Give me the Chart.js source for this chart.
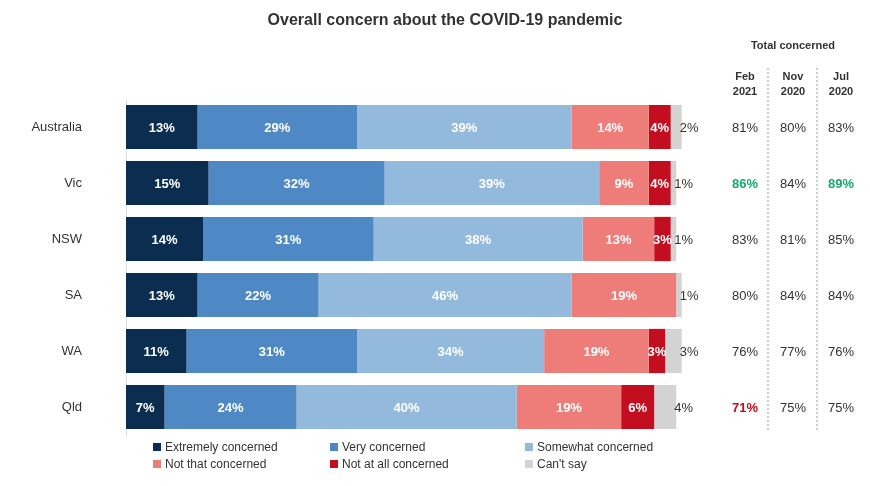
<!DOCTYPE html>
<html>
<head>
<meta charset="utf-8">
<script src="https://cdn.jsdelivr.net/npm/chart.js@4"></script>
<style>
  body { margin: 0; background: #fff; font-family: Arial, "Liberation Sans", sans-serif; }
  #wrap { position: relative; width: 870px; height: 486px; }
  .leg { position: absolute; font-size: 12px; color: #333; white-space: nowrap; }
  .leg span { display: inline-block; width: 8px; height: 8px; margin-right: 4px; }
</style>
</head>
<body>
<div id="wrap">
  <canvas id="chart" width="870" height="486"></canvas>
  <div id="legenda"></div>
</div>
<script>
// Dados
const regioes = ['Australia', 'Vic', 'NSW', 'SA', 'WA', 'Qld'];
const series = ['Extremely concerned', 'Very concerned', 'Somewhat concerned', 'Not that concerned', 'Not at all concerned', "Can't say"];
const extremamente = [13, 15, 14, 13, 11, 7];
const muito = [29, 32, 31, 22, 31, 24];
const algo = [39, 39, 38, 46, 34, 40];
const poucoPreoc = [14, 9, 13, 19, 19, 19];
const nada = [4, 4, 3, 0, 3, 6];
const naoSabe = [2, 1, 1, 1, 3, 4];
const periodos = [['Feb', '2021'], ['Nov', '2020'], ['Jul', '2020']];
const fev2021 = [81, 86, 83, 80, 76, 71];
const nov2020 = [80, 84, 81, 84, 77, 75];
const jul2020 = [83, 89, 85, 84, 76, 75];

const cores = ['#0b2d4f', '#4f89c5', '#93b9dd', '#ee7c78', '#c20e1e', '#d3d3d3'];
const valores = [extremamente, muito, algo, poucoPreoc, nada, naoSabe];

// cores de destaque na tabela
const corTabela = (col, i) => {
    if (col === 0 && i === 1) return '#1aa86a';
    if (col === 2 && i === 1) return '#1aa86a';
    if (col === 0 && i === 5) return '#c20e1e';
    return '#333';
};

const extras = {
    id: 'extras',
    afterDatasetsDraw(chart) {
        const ctx = chart.ctx;
        ctx.save();
        ctx.textAlign = 'center';
        ctx.textBaseline = 'middle';
        chart.data.datasets.forEach((ds, d) => {
            chart.getDatasetMeta(d).data.forEach((bar, i) => {
                const v = ds.data[i];
                if (!v) return;
                if (d === 5) {
                    ctx.font = '13px Arial';
                    ctx.fillStyle = '#333';
                    ctx.textAlign = 'left';
                    ctx.fillText(v + '%', bar.x - 2, bar.y + 1);
                    ctx.textAlign = 'center';
                } else {
                    ctx.font = 'bold 13px Arial';
                    ctx.fillStyle = '#fff';
                    ctx.fillText(v + '%', (bar.x + bar.base) / 2, bar.y + 1);
                }
            });
        });
        // titulo
        ctx.fillStyle = '#333';
        ctx.font = 'bold 16px Arial';
        ctx.fillText('Overall concern about the COVID-19 pandemic', 445, 21);
        // tabela
        ctx.font = 'bold 11px Arial';
        ctx.fillText('Total concerned', 793, 46);
        const xs = [745, 793, 841];
        periodos.forEach((p, c) => {
            ctx.fillText(p[0], xs[c], 77);
            ctx.fillText(p[1], xs[c], 92);
        });
        const meta = chart.getDatasetMeta(0).data;
        [fev2021, nov2020, jul2020].forEach((col, c) => {
            col.forEach((v, i) => {
                ctx.font = (corTabela(c, i) !== '#333' ? 'bold ' : '') + '13px Arial';
                ctx.fillStyle = corTabela(c, i);
                ctx.fillText(v + '%', xs[c], meta[i].y + 1);
            });
        });
        ctx.strokeStyle = '#999';
        ctx.setLineDash([2, 2]);
        [768, 817].forEach(x => {
            ctx.beginPath();
            ctx.moveTo(x, 68);
            ctx.lineTo(x, 432);
            ctx.stroke();
        });
        ctx.restore();
    }
};

new Chart(document.getElementById('chart'), {
    type: 'bar',
    data: {
        labels: regioes,
        datasets: series.map((s, k) => ({
            label: s,
            data: valores[k],
            backgroundColor: cores[k],
            barPercentage: 0.79,
            categoryPercentage: 1
        }))
    },
    options: {
        indexAxis: 'y',
        responsive: false,
        animation: false,
        layout: { padding: { top: 99, bottom: 51, right: 185, left: 0 } },
        scales: {
            x: { stacked: true, min: 0, max: 101.6, display: false },
            y: {
                stacked: true,
                grid: { display: false },
                border: { display: true, color: '#ddd' },
                afterFit: s => { s.width = 126; },
                ticks: { color: '#333', font: { size: 13, family: 'Arial' }, padding: 36 }
            }
        },
        plugins: { legend: { display: false }, tooltip: { enabled: false } }
    },
    plugins: [extras]
});

// Legenda em grade 3x2
const posLeg = [[153, 440], [330, 440], [525, 440], [153, 457], [330, 457], [525, 457]];
document.getElementById('legenda').innerHTML = series.map((s, k) =>
    `<div class="leg" style="left:${posLeg[k][0]}px;top:${posLeg[k][1]}px"><span style="background:${cores[k]}"></span>${s}</div>`
).join('');
</script>
</body>
</html>
